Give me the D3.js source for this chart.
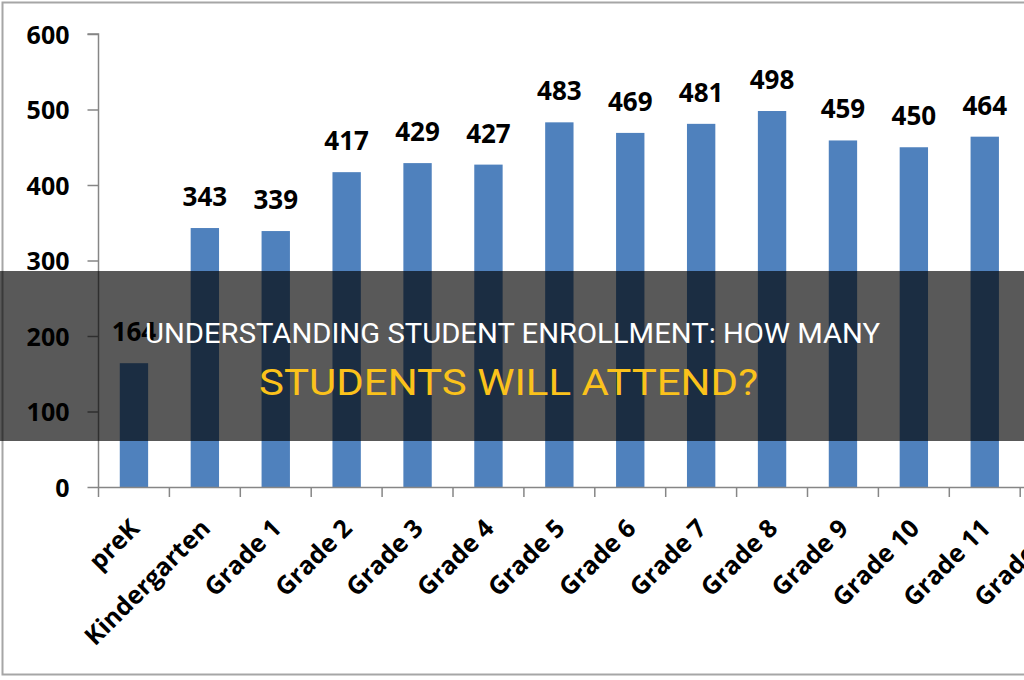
<!DOCTYPE html>
<html>
<head>
<meta charset="utf-8">
<script src="https://cdn.jsdelivr.net/npm/d3@7"></script>
<style>
  body { margin: 0; background: #fff; }
  svg { display: block; }
</style>
</head>
<body>
<div id="chart"></div>
<script>
// enrollment by grade (Grade 12 bar is cut off at the right edge)
const grades = ["preK", "Kindergarten", "Grade 1", "Grade 2", "Grade 3", "Grade 4", "Grade 5",
  "Grade 6", "Grade 7", "Grade 8", "Grade 9", "Grade 10", "Grade 11", "Grade 12"];
const students = [164, 343, 339, 417, 429, 427, 483, 469, 481, 498, 459, 450, 464, null];
const yTicks = [0, 100, 200, 300, 400, 500, 600];
const titleLine1 = "UNDERSTANDING STUDENT ENROLLMENT: HOW MANY";
const titleLine2 = "STUDENTS WILL ATTEND?";

const width = 1024;
const height = 680;
const numFont = "'Open Sans', 'DejaVu Sans', sans-serif";

const data = grades.map((g, i) => ({ grade: g, value: students[i] }));

const svg = d3.select("#chart")
  .append("svg")
  .attr("width", width)
  .attr("height", height);

// gray frame round the chart
svg.append("rect")
  .attr("x", 2.5)
  .attr("y", 2.5)
  .attr("width", 1100)
  .attr("height", 672)
  .attr("fill", "#fff")
  .attr("stroke", "#a6a6a6")
  .attr("stroke-width", 2);

// one slot per grade, bars take 40% of the slot
let slotScale = d3.scaleBand()
  .domain(grades)
  .range([98.5, 98.5 + 70.9 * grades.length]);

let xScale = d3.scaleBand()
  .domain(grades)
  .range([98.5, 98.5 + 70.9 * grades.length])
  .paddingInner(0.6)
  .paddingOuter(0.3);

let yScale = d3.scaleLinear()
  .domain([0, 600])
  .range([487, 34]);

// y axis
const yAxis = svg.append("g")
  .attr("transform", "translate(98.5,0)")
  .call(d3.axisLeft(yScale).tickValues(yTicks).tickSize(11).tickPadding(18));
yAxis.selectAll("path, line").attr("stroke", "#868686").attr("stroke-width", 1.5);
yAxis.select(".domain").attr("d", `M-11,${yScale(600)}H0V${yScale(0)}`);
yAxis.selectAll("text")
  .attr("fill", "#000")
  .attr("font-family", numFont)
  .attr("font-weight", "bold")
  .attr("font-size", 25)
  .attr("dy", "0.36em");

// bars
svg.selectAll("rect.bar")
  .data(data.filter(d => d.value != null)).enter()
  .append("rect")
  .attr("class", "bar")
  .attr("x", d => xScale(d.grade))
  .attr("y", d => yScale(d.value))
  .attr("width", xScale.bandwidth())
  .attr("height", d => yScale(0) - yScale(d.value))
  .attr("fill", "#4f81bd");

// x axis line and ticks between categories
svg.append("line")
  .attr("x1", 98.5)
  .attr("x2", width)
  .attr("y1", yScale(0) + 0.5)
  .attr("y2", yScale(0) + 0.5)
  .attr("stroke", "#868686")
  .attr("stroke-width", 1.5);

svg.selectAll("line.xtick")
  .data(grades).enter()
  .append("line")
  .attr("class", "xtick")
  .attr("x1", d => slotScale(d))
  .attr("x2", d => slotScale(d))
  .attr("y1", yScale(0))
  .attr("y2", yScale(0) + 10)
  .attr("stroke", "#868686")
  .attr("stroke-width", 1.5);

// rotated grade labels
svg.selectAll("text.xlabel")
  .data(grades).enter()
  .append("text")
  .attr("class", "xlabel")
  .attr("transform", d => `translate(${slotScale(d) + slotScale.bandwidth() / 2 + 7},530) rotate(-45)`)
  .attr("text-anchor", "end")
  .attr("font-family", numFont)
  .attr("font-weight", "bold")
  .attr("font-size", 25)
  .attr("fill", "#000")
  .text(d => d);

// value labels over the bars
svg.selectAll("text.value")
  .data(data.filter(d => d.value != null)).enter()
  .append("text")
  .attr("class", "value")
  .attr("x", d => xScale(d.grade) + xScale.bandwidth() / 2)
  .attr("y", d => yScale(d.value) - 22)
  .attr("text-anchor", "middle")
  .attr("font-family", numFont)
  .attr("font-weight", "bold")
  .attr("font-size", 26)
  .attr("fill", "#000")
  .text(d => d.value);

// dark title band on top
svg.append("rect")
  .attr("x", 0)
  .attr("y", 271)
  .attr("width", width)
  .attr("height", 170)
  .attr("fill", "#000")
  .attr("fill-opacity", 0.65);

svg.append("text")
  .attr("x", 512.5)
  .attr("y", 343)
  .attr("text-anchor", "middle")
  .attr("font-family", "Roboto, 'Liberation Sans', sans-serif")
  .attr("font-size", 28)
  .attr("fill", "#ffffff")
  .attr("textLength", 735)
  .attr("lengthAdjust", "spacingAndGlyphs")
  .text(titleLine1);

svg.append("text")
  .attr("x", 508.5)
  .attr("y", 395)
  .attr("text-anchor", "middle")
  .attr("font-family", "Roboto, 'Liberation Sans', sans-serif")
  .attr("font-size", 36)
  .attr("fill", "#fbc21b")
  .attr("textLength", 499)
  .attr("lengthAdjust", "spacingAndGlyphs")
  .text(titleLine2);
</script>
</body>
</html>
